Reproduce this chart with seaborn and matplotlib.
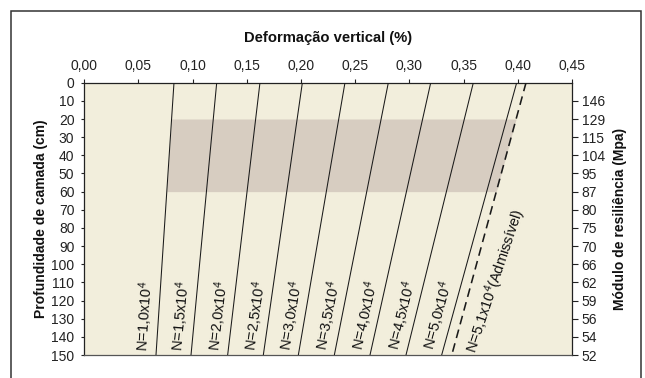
import numpy as np
import pandas as pd
import matplotlib
matplotlib.use("Agg")
import matplotlib.pyplot as plt
import matplotlib.transforms as mtransforms
from matplotlib.patches import Rectangle
import seaborn as sns

# Vertical strain (%) at the top (0 cm) and bottom (150 cm) of the layer for each traffic level
n_labels = ["N=1,0x10$^4$", "N=1,5x10$^4$", "N=2,0x10$^4$", "N=2,5x10$^4$",
            "N=3,0x10$^4$", "N=3,5x10$^4$", "N=4,0x10$^4$", "N=4,5x10$^4$",
            "N=5,0x10$^4$"]
strain_top = [0.0829, 0.1223, 0.1622, 0.2013, 0.2406, 0.2806, 0.3197, 0.3590, 0.3990]
strain_bottom = [0.0663, 0.0986, 0.1324, 0.1653, 0.1976, 0.2308, 0.2637, 0.2969, 0.3298]
depths = [0, 150]

# Admissible strain line
adm_label = "N=5,1x10$^4$(Admissível)"
adm_top = 0.4076
adm_bottom = 0.3391

# Layer band (cm)
band_depths = [20, 60]

# Axes ticks
x_ticks = [0.00, 0.05, 0.10, 0.15, 0.20, 0.25, 0.30, 0.35, 0.40, 0.45]
depth_ticks = [0, 10, 20, 30, 40, 50, 60, 70, 80, 90, 100, 110, 120, 130, 140, 150]
modulus_depths = [10, 20, 30, 40, 50, 60, 70, 80, 90, 100, 110, 120, 130, 140, 150]
modulus_labels = ["146", "129", "115", "104", "95", "87", "80", "75", "70",
                  "66", "62", "59", "56", "54", "52"]

sns.set_style("white")
plt.rcParams["font.family"] = ["Liberation Sans", "DejaVu Sans"]
plt.rcParams["mathtext.fontset"] = "custom"
plt.rcParams["mathtext.rm"] = "Liberation Sans"
plt.rcParams["mathtext.default"] = "regular"

BG = "#f2eedc"
BAND = "#d7cdc1"
INK = "#1a1a1a"

fig = plt.figure(figsize=(6.45, 3.78), dpi=100)
ax = fig.add_axes([0.1304, 0.0608, 0.7564, 0.7204])
ax.set_facecolor(BG)

ax.set_xlim(0, 0.45)
ax.set_ylim(150, 0)

# Shaded layer between the first curve and the admissible line
bd = np.array(band_depths, dtype=float)
band_left = np.interp(bd, depths, [strain_top[0], strain_bottom[0]])
band_right = np.interp(bd, depths, [adm_top, adm_bottom])
ax.fill_betweenx(bd, band_left, band_right, color=BAND, lw=0, zorder=1)

# Strain lines
rows = []
for lab, t, b in zip(n_labels, strain_top, strain_bottom):
    rows.append({"N": lab, "deformacao": t, "profundidade": depths[0]})
    rows.append({"N": lab, "deformacao": b, "profundidade": depths[1]})
df = pd.DataFrame(rows)
for lab, sub in df.groupby("N", sort=False):
    sns.lineplot(data=sub, x="deformacao", y="profundidade", ax=ax, color=INK,
                 lw=0.75, sort=False, estimator=None, legend=False, zorder=3)

adm = pd.DataFrame({"deformacao": [adm_top, adm_bottom], "profundidade": depths})
sns.lineplot(data=adm, x="deformacao", y="profundidade", ax=ax, color=INK,
             lw=1.15, linestyle=(0, (5.5, 3.4)), sort=False, estimator=None,
             legend=False, zorder=3)

# Axis styling
ax.xaxis.tick_top()
ax.xaxis.set_label_position("top")
ax.set_xticks(x_ticks)
ax.set_xticklabels([f"{v:.2f}".replace(".", ",") for v in x_ticks])
ax.set_yticks(depth_ticks)
ax.tick_params(axis="x", top=True, bottom=False, direction="out", length=3,
               width=0.8, pad=4, labelsize=10, colors="#222222")
ax.tick_params(axis="y", left=True, direction="out", length=2.5, width=0.8,
               pad=4.5, labelsize=10, colors="#222222")
for side in ["top", "left", "right"]:
    ax.spines[side].set_color("#222222")
    ax.spines[side].set_linewidth(0.9)
ax.spines["bottom"].set_color("#555555")
ax.spines["bottom"].set_linewidth(0.9)

ax.set_xlabel("Deformação vertical (%)", fontsize=10.6, fontweight="bold", color="#111111")
ax.xaxis.set_label_coords(0.5, 1.166)
ax.xaxis.label.set_va("center")
ax.set_ylabel("Profundidade de camada (cm)", fontsize=10, fontweight="bold", color="#111111")
ax.yaxis.set_label_coords(-0.088, 0.5)
ax.yaxis.label.set_va("center")

ax2 = ax.twinx()
ax2.set_ylim(150, 0)
ax2.set_yticks(modulus_depths)
ax2.set_yticklabels(modulus_labels)
ax2.tick_params(axis="y", right=True, direction="out", length=4, width=0.8,
                pad=3, labelsize=10, colors="#222222")
for s in ax2.spines.values():
    s.set_visible(False)
ax2.set_ylabel("Módulo de resiliência (Mpa)", fontsize=10, fontweight="bold", color="#111111")
ax2.yaxis.set_label_coords(1.099, 0.5)
ax2.yaxis.label.set_va("center")

# Rotated labels along each line
fig.canvas.draw()


def screen_angle(x0, x1):
    p0 = ax.transData.transform((x0, depths[0]))
    p1 = ax.transData.transform((x1, depths[1]))
    return np.degrees(np.arctan2(p0[1] - p1[1], p0[0] - p1[0]))


label_depth = 148.5
left_shift = mtransforms.offset_copy(ax.transData, fig=fig, x=-3, y=0, units="dots")
for lab, t, b in zip(n_labels, strain_top, strain_bottom):
    xa = np.interp(label_depth, depths, [t, b])
    ang = screen_angle(t, b)
    ax.text(xa, label_depth, lab, transform=left_shift, rotation=ang,
            rotation_mode="anchor", ha="left", va="bottom", fontsize=10.5,
            color="#111111", zorder=4)

adm_depth = 147
right_shift = mtransforms.offset_copy(ax.transData, fig=fig, x=8, y=0, units="dots")
xa = np.interp(adm_depth, depths, [adm_top, adm_bottom])
ax.text(xa, adm_depth, adm_label, transform=right_shift, rotation=71.5,
        rotation_mode="anchor", ha="left", va="top", fontsize=10.5,
        color="#111111", zorder=4)

# Outer frame
fig.patches.append(Rectangle((0.0178, -0.05), 0.976, 1.021, transform=fig.transFigure,
                             fill=False, edgecolor="#333333", lw=1.1))

fig.savefig("out.png", dpi=100, facecolor="white")
